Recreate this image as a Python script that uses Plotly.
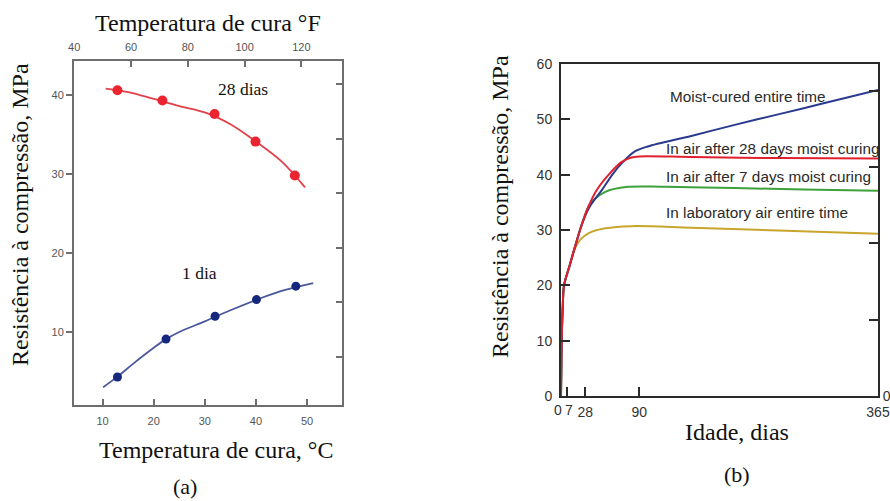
import plotly.graph_objects as go

# ---------- (a) strength vs curing temperature ----------
temp_c_28 = [12.9, 21.7, 31.9, 39.9, 47.6]
mpa_28 = [40.6, 39.3, 37.6, 34.1, 29.8]
curve_c_28 = [10.6, 15, 20, 25, 30, 35, 40, 45, 49.6]
curve_mpa_28 = [40.8, 40.35, 39.5, 38.6, 37.8, 36.3, 34.1, 31.6, 28.3]

temp_c_1 = [12.9, 22.4, 32.0, 40.1, 47.8]
mpa_1 = [4.3, 9.1, 12.0, 14.1, 15.8]
curve_c_1 = [10.1, 12.9, 16, 20, 22.4, 25, 30, 35, 40, 45, 51.2]
curve_mpa_1 = [3.0, 4.35, 6.0, 8.0, 9.1, 10.0, 11.35, 12.75, 14.05, 15.2, 16.2]

ticks_c = [10, 20, 30, 40, 50]
ticks_f = [40, 60, 80, 100, 120]
ticks_mpa_a = [10, 20, 30, 40]
ticks_psi_a = [1000, 2000, 3000, 4000, 5000, 6000]

# ---------- (b) strength vs age ----------
days_moist = [0, 0.5, 1, 2, 3.5, 10, 16, 24, 33, 47, 60, 72, 85, 100, 150, 200, 250, 300, 365]
mpa_moist = [0, 7, 11.5, 16, 20, 23.6, 26.9, 31.0, 34.2, 37.2, 40.2, 42.4, 44.2, 45.1,
             47.0, 49.0, 50.9, 52.8, 55.3]

days_28 = [0, 0.5, 1, 2, 3.5, 10, 16, 24, 31.5, 41, 56, 70, 81, 90, 150, 250, 365]
mpa_28d = [0, 7, 11.5, 16, 20, 23.6, 26.9, 31.0, 34.2, 37.2, 40.2, 42.3, 43.1, 43.3,
           43.2, 43.0, 42.9]

days_7 = [0, 0.5, 1, 2, 3.5, 10, 16, 24, 33, 51, 77, 120, 200, 280, 365]
mpa_7d = [0, 7, 11.5, 16, 20, 23.6, 26.9, 31.0, 34.6, 36.9, 37.8, 37.8, 37.6, 37.3, 37.1]

days_lab = [0, 0.5, 1, 2, 3.5, 10, 16, 22, 31.5, 51, 81, 150, 250, 365]
mpa_lab = [0, 7, 11.5, 16, 20, 23.6, 26.6, 28.2, 29.4, 30.3, 30.7, 30.4, 29.9, 29.3]

ticks_days = [0, 7, 28, 90, 365]
ticks_days_text = ["0", "7", "28", "90", "365"]
ticks_mpa_b = [0, 10, 20, 30, 40, 50, 60]
ticks_psi_b = [0, 2000, 4000, 6000, 8000]

MPA_TO_PSI = 145.038
SERIF = "Liberation Serif"
SANS = "Liberation Sans"
W, H = 890, 501


def px_x(p):
    return p / W


def px_y(p):
    return 1 - p / H


c_range = [4.4, 56.83]
f_range = [c * 9 / 5 + 32 for c in c_range]
mpa_range_a = [0.76, 44.3]
mpa_range_b = [0, 60]

dom_xa = [px_x(74), px_x(342)]
dom_ya = [px_y(405), px_y(61)]
dom_xb = [px_x(561), px_x(878)]
dom_yb = [px_y(396), px_y(64)]

fig = go.Figure()

# panel (a)
fig.add_trace(go.Scatter(x=curve_c_28, y=curve_mpa_28, mode="lines",
                         line=dict(color="#e2404a", width=1.8, shape="spline"),
                         xaxis="x", yaxis="y", showlegend=False))
fig.add_trace(go.Scatter(x=temp_c_28, y=mpa_28, mode="markers",
                         marker=dict(color="#ea2530", size=10),
                         xaxis="x", yaxis="y", showlegend=False))
fig.add_trace(go.Scatter(x=curve_c_1, y=curve_mpa_1, mode="lines",
                         line=dict(color="#4a589e", width=1.8, shape="spline"),
                         xaxis="x", yaxis="y", showlegend=False))
fig.add_trace(go.Scatter(x=temp_c_1, y=mpa_1, mode="markers",
                         marker=dict(color="#16287e", size=9),
                         xaxis="x", yaxis="y", showlegend=False))
# invisible anchors for the secondary scales
fig.add_trace(go.Scatter(x=[f_range[0]], y=[mpa_range_a[0] * MPA_TO_PSI], mode="markers",
                         marker=dict(opacity=0), xaxis="x2", yaxis="y2",
                         showlegend=False, hoverinfo="skip"))

# panel (b)
spl = dict(width=2, shape="spline", smoothing=0.9)
fig.add_trace(go.Scatter(x=days_lab, y=mpa_lab, mode="lines",
                         line=dict(spl, color="#c8a52c"),
                         xaxis="x3", yaxis="y3", showlegend=False))
fig.add_trace(go.Scatter(x=days_7, y=mpa_7d, mode="lines",
                         line=dict(spl, color="#3ea23c"),
                         xaxis="x3", yaxis="y3", showlegend=False))
fig.add_trace(go.Scatter(x=days_moist, y=mpa_moist, mode="lines",
                         line=dict(spl, color="#2a3a8e"),
                         xaxis="x3", yaxis="y3", showlegend=False))
fig.add_trace(go.Scatter(x=days_28, y=mpa_28d, mode="lines",
                         line=dict(spl, color="#e0202e"),
                         xaxis="x3", yaxis="y3", showlegend=False))
fig.add_trace(go.Scatter(x=[0], y=[0], mode="markers", marker=dict(opacity=0),
                         xaxis="x3", yaxis="y4", showlegend=False, hoverinfo="skip"))

gray_axis = dict(showline=True, linecolor="#6e6e6e", linewidth=2, showgrid=False,
                 zeroline=False, tickcolor="#6e6e6e", ticklen=6, tickwidth=1.5,
                 tickangle=0, automargin=False,
                 tickfont=dict(family=SANS, size=11, color="#555555"))
black_axis = dict(showline=True, linecolor="#2a2a2a", linewidth=2, showgrid=False,
                  zeroline=False, tickcolor="#2a2a2a", ticklen=9, tickwidth=1.5,
                  tickangle=0, automargin=False,
                  tickfont=dict(family=SANS, size=14, color="#333333"))

fig.update_layout(
    width=W, height=H, autosize=False,
    margin=dict(l=0, r=0, t=0, b=0, autoexpand=False),
    paper_bgcolor="white", plot_bgcolor="white",
    xaxis=dict(gray_axis, domain=dom_xa, range=c_range, anchor="y",
               tickvals=ticks_c, ticks="inside", ticklabelstandoff=5),
    xaxis2=dict(gray_axis, domain=dom_xa, range=f_range, overlaying="x", side="top",
                anchor="y", tickvals=ticks_f, ticks="inside", ticklabelstandoff=4),
    yaxis=dict(gray_axis, domain=dom_ya, range=mpa_range_a, anchor="x",
               tickvals=ticks_mpa_a, ticks="outside"),
    yaxis2=dict(gray_axis, domain=dom_ya, range=[v * MPA_TO_PSI for v in mpa_range_a],
                overlaying="y", side="right", anchor="x", tickvals=ticks_psi_a,
                ticks="inside", showticklabels=False),
    # labels for the crowded 0/7 pair are placed as annotations below
    xaxis3=dict(black_axis, domain=dom_xb, range=[0, 365], anchor="y3",
                tickvals=ticks_days, ticktext=["", ""] + ticks_days_text[2:],
                ticks="inside", mirror=True, ticklabelstandoff=2),
    yaxis3=dict(black_axis, domain=dom_yb, range=mpa_range_b, anchor="x3",
                tickvals=ticks_mpa_b, ticks="inside", ticklabelstandoff=4),
    yaxis4=dict(black_axis, domain=dom_yb, range=[v * MPA_TO_PSI for v in mpa_range_b],
                overlaying="y3", side="right", anchor="x3", tickvals=ticks_psi_b,
                ticktext=["0", "", "", "", ""], ticks="inside"),
)

serif_big = dict(family=SERIF, size=24, color="#111111")
serif_tag = dict(family=SERIF, size=22, color="#111111")
serif_mid = dict(family=SERIF, size=17.5, color="#111111")
sans_lbl = dict(family=SANS, size=15.3, color="#2a2a2a")
sans_tick = dict(family=SANS, size=14, color="#333333")

annotations = [
    dict(text="Temperatura de cura °F", x=px_x(208), y=px_y(23), font=serif_big),
    dict(text="Temperatura de cura, °C", x=px_x(216), y=px_y(450), font=serif_big),
    dict(text="(a)", x=px_x(185), y=px_y(486), font=serif_tag),
    dict(text="Resistência à compressão, MPa", x=px_x(20), y=px_y(215),
         textangle=-90, font=serif_big),
    dict(text="28 dias", x=px_x(243), y=px_y(89), font=serif_mid),
    dict(text="1 dia", x=px_x(199), y=px_y(273), font=serif_mid),
    dict(text="Resistência à compressão, MPa", x=px_x(500), y=px_y(207),
         textangle=-90, font=serif_big),
    dict(text="Idade, dias", x=px_x(737), y=px_y(432), font=serif_big),
    dict(text="(b)", x=px_x(737), y=px_y(474), font=serif_tag),
    dict(text=ticks_days_text[0], x=px_x(557.5), y=px_y(410), font=sans_tick),
    dict(text=ticks_days_text[1], x=px_x(568.5), y=px_y(410), font=sans_tick),
]
for a in annotations:
    a.update(xref="paper", yref="paper", showarrow=False, xanchor="center", yanchor="middle",
             borderpad=0)

curve_labels = [
    ("Moist-cured entire time", 123, 54.1),
    ("In air after 28 days moist curing", 118.5, 44.8),
    ("In air after 7 days moist curing", 118.5, 39.6),
    ("In laboratory air entire time", 118.5, 33.1),
]
for txt, xd, yd in curve_labels:
    annotations.append(dict(text=txt, x=xd, y=yd, xref="x3", yref="y3", showarrow=False,
                            xanchor="left", yanchor="middle", font=sans_lbl))

fig.update_layout(annotations=annotations)

fig.write_html("out.html", config={"responsive": False})
